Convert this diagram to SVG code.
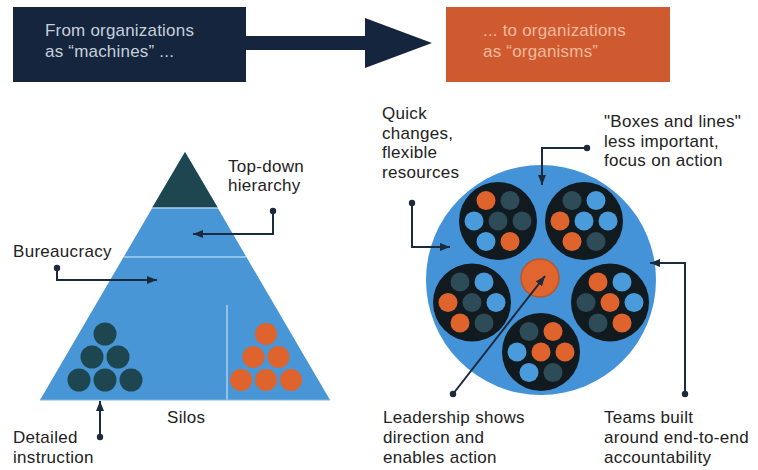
<svg xmlns="http://www.w3.org/2000/svg" width="758" height="470" viewBox="0 0 758 470">
<style>
.lbl{font-family:"Liberation Sans",Arial,sans-serif;font-size:17px;fill:#222222;letter-spacing:0.3px}
.hdr{font-family:"Liberation Sans",Arial,sans-serif;font-size:17px;letter-spacing:0.2px}
.con{fill:none;stroke:#1b2a3c;stroke-width:2}
.dotc{fill:#1b2a3c}
.sub{fill:#111a1f}
.o{fill:#df632d}
.b{fill:#4a9bdb}
.d{fill:#2e4b58}
.sep{stroke:#a9d0ef;stroke-width:1.5}
</style>
<defs>
<marker id="ah" viewBox="0 0 10 10" refX="10" refY="5" markerWidth="10" markerHeight="10" markerUnits="userSpaceOnUse" orient="auto">
<path d="M0,1 L10,5 L0,9 z" fill="#1b2a3c"/>
</marker>
</defs>
<rect width="758" height="470" fill="#ffffff"/>

<g id="from-box">
<rect x="13" y="7" width="233" height="75" fill="#15253d"/>
<text class="hdr" x="45" y="36" fill="#c5cfdb">From organizations</text>
<text class="hdr" x="45" y="57" fill="#c5cfdb">as “machines” ...</text>
</g>
<g id="big-arrow">
<path d="M246,36 H365 V18 L432,43 L365,68 V50 H246 Z" fill="#15253d"/>
</g>
<g id="to-box">
<rect x="446" y="7" width="224" height="75" fill="#cf5a30"/>
<text class="hdr" x="483" y="36" fill="#f3b99c">... to organizations</text>
<text class="hdr" x="483" y="57" fill="#f3b99c">as “organisms”</text>
</g>

<g id="pyramid">
<path d="M185,152 L330,400 L40,400 Z" fill="#4896d6"/>
<path d="M185,152 L218,208 L152,208 Z" fill="#1e4651"/>
<line class="sep" x1="152" y1="208" x2="218" y2="208"/>
<line class="sep" x1="124" y1="257" x2="246" y2="257"/>
<line class="sep" x1="227" y1="305" x2="227" y2="400"/>
<line x1="40" y1="400" x2="330" y2="400" stroke="#7fb8e6" stroke-width="1"/>
<g id="dark-dots" fill="#1e4651">
<circle cx="105" cy="334" r="11.5"/>
<circle cx="92" cy="357" r="11.5"/>
<circle cx="118" cy="357" r="11.5"/>
<circle cx="79" cy="380" r="11.5"/>
<circle cx="105" cy="380" r="11.5"/>
<circle cx="131" cy="380" r="11.5"/>
</g>
<g id="orange-dots" fill="#df632d">
<circle cx="266" cy="334" r="11"/>
<circle cx="253.5" cy="357" r="11"/>
<circle cx="278.5" cy="357" r="11"/>
<circle cx="241" cy="380" r="11"/>
<circle cx="266" cy="380" r="11"/>
<circle cx="291" cy="380" r="11"/>
</g>
</g>

<g id="organism">
<circle cx="541" cy="280" r="115" fill="#4493d8"/>
<g id="team-tl" transform="translate(498,221)">
<circle class="sub" r="39"/>
<circle class="o" cx="-12" cy="-20.5" r="9.5"/><circle class="d" cx="12" cy="-20.5" r="9.5"/>
<circle class="b" cx="-24" cy="0" r="9.5"/><circle class="d" cx="0" cy="0" r="9.5"/><circle class="d" cx="24" cy="0" r="9.5"/>
<circle class="b" cx="-12" cy="20.5" r="9.5"/><circle class="o" cx="12" cy="20.5" r="9.5"/>
</g>
<g id="team-tr" transform="translate(584,221)">
<circle class="sub" r="39"/>
<circle class="d" cx="-12" cy="-20.5" r="9.5"/><circle class="b" cx="12" cy="-20.5" r="9.5"/>
<circle class="o" cx="-24" cy="0" r="9.5"/><circle class="b" cx="0" cy="0" r="9.5"/><circle class="b" cx="24" cy="0" r="9.5"/>
<circle class="o" cx="-12" cy="20.5" r="9.5"/><circle class="d" cx="12" cy="20.5" r="9.5"/>
</g>
<g id="team-l" transform="translate(472,302.5)">
<circle class="sub" r="39"/>
<circle class="d" cx="-12" cy="-20.5" r="9.5"/><circle class="b" cx="12" cy="-20.5" r="9.5"/>
<circle class="o" cx="-24" cy="0" r="9.5"/><circle class="d" cx="0" cy="0" r="9.5"/><circle class="b" cx="24" cy="0" r="9.5"/>
<circle class="o" cx="-12" cy="20.5" r="9.5"/><circle class="d" cx="12" cy="20.5" r="9.5"/>
</g>
<g id="team-r" transform="translate(610,302.5)">
<circle class="sub" r="39"/>
<circle class="o" cx="-12" cy="-20.5" r="9.5"/><circle class="b" cx="12" cy="-20.5" r="9.5"/>
<circle class="d" cx="-24" cy="0" r="9.5"/><circle class="o" cx="0" cy="0" r="9.5"/><circle class="b" cx="24" cy="0" r="9.5"/>
<circle class="d" cx="-12" cy="20.5" r="9.5"/><circle class="o" cx="12" cy="20.5" r="9.5"/>
</g>
<g id="team-b" transform="translate(541,352)">
<circle class="sub" r="39"/>
<circle class="d" cx="-12" cy="-20.5" r="9.5"/><circle class="o" cx="12" cy="-20.5" r="9.5"/>
<circle class="b" cx="-24" cy="0" r="9.5"/><circle class="o" cx="0" cy="0" r="9.5"/><circle class="o" cx="24" cy="0" r="9.5"/>
<circle class="b" cx="-12" cy="20.5" r="9.5"/><circle class="d" cx="12" cy="20.5" r="9.5"/>
</g>
<g id="leader">
<circle cx="540" cy="278" r="19" fill="#e0652e" stroke="#b6562e" stroke-width="1.5"/>
</g>
</g>

<g id="labels">
<g id="lbl-topdown"><text class="lbl" x="228" y="172">Top-down</text><text class="lbl" x="228" y="191">hierarchy</text></g>
<g id="lbl-bureaucracy"><text class="lbl" x="13" y="257">Bureaucracy</text></g>
<g id="lbl-silos"><text class="lbl" x="167" y="423">Silos</text></g>
<g id="lbl-detailed"><text class="lbl" x="13" y="443">Detailed</text><text class="lbl" x="13" y="463">instruction</text></g>
<g id="lbl-quick"><text class="lbl" x="382" y="119">Quick</text><text class="lbl" x="382" y="138.5">changes,</text><text class="lbl" x="382" y="158">flexible</text><text class="lbl" x="382" y="178">resources</text></g>
<g id="lbl-boxes"><text class="lbl" x="604" y="127">"Boxes and lines"</text><text class="lbl" x="604" y="146.5">less important,</text><text class="lbl" x="604" y="166">focus on action</text></g>
<g id="lbl-leadership"><text class="lbl" x="383" y="423">Leadership shows</text><text class="lbl" x="383" y="443">direction and</text><text class="lbl" x="383" y="463">enables action</text></g>
<g id="lbl-teams"><text class="lbl" x="604" y="423">Teams built</text><text class="lbl" x="604" y="443">around end-to-end</text><text class="lbl" x="604" y="463">accountability</text></g>
</g>

<g id="connectors">
<path class="con" d="M273,211 V234 H193" marker-end="url(#ah)"/>
<circle class="dotc" cx="273" cy="211" r="3.2"/>
<path class="con" d="M57,268 V280 H157" marker-end="url(#ah)"/>
<circle class="dotc" cx="57" cy="268" r="3.2"/>
<path class="con" d="M100,437 V401" marker-end="url(#ah)"/>
<circle class="dotc" cx="100" cy="437" r="3.2"/>
<path class="con" d="M412,203 V247 H450" marker-end="url(#ah)"/>
<circle class="dotc" cx="412" cy="203" r="3.2"/>
<path class="con" d="M587,148 H542 V185" marker-end="url(#ah)"/>
<circle class="dotc" cx="587" cy="148" r="3.2"/>
<path class="con" d="M685,394 V263 H650" marker-end="url(#ah)"/>
<circle class="dotc" cx="685" cy="394" r="3.2"/>
<path class="con" d="M453,394 L545,276" marker-end="url(#ah)"/>
<circle class="dotc" cx="453" cy="394" r="3.2"/>
</g>
</svg>
